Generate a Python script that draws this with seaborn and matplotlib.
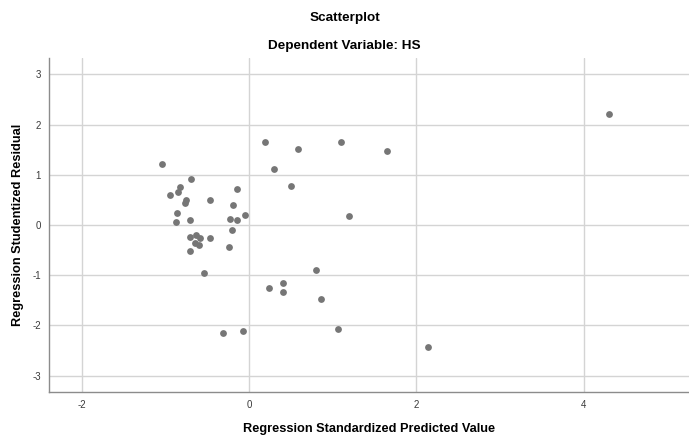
import pandas as pd
import numpy as np
import matplotlib
matplotlib.use("Agg")
import matplotlib.pyplot as plt
import seaborn as sns

# values
pred_value = [0.19, 0.58, 1.10, 1.65, -1.04, 0.30, -0.69, -0.83, -0.85, -0.95,
              -0.14, 0.50, -0.75, -0.76, -0.47, -0.19, -0.86, -0.87, -0.71, -0.23,
              -0.14, -0.05, 1.20, -0.20, -0.71, -0.63, -0.59, -0.47, -0.64, -0.60,
              -0.70, -0.24, -0.54, 0.80, 0.24, 0.41, 0.41, 0.86, -0.31, -0.07,
              1.06, 2.14, 4.30]
stud_resid = [1.65, 1.51, 1.65, 1.47, 1.22, 1.11, 0.92, 0.76, 0.66, 0.60,
              0.72, 0.77, 0.50, 0.44, 0.50, 0.41, 0.24, 0.06, 0.11, 0.13,
              0.11, 0.20, 0.19, -0.10, -0.24, -0.19, -0.26, -0.26, -0.36, -0.40,
              -0.52, -0.44, -0.95, -0.90, -1.25, -1.16, -1.33, -1.48, -2.15, -2.11,
              -2.07, -2.42, 2.22]
x_ticks = [-2, 0, 2, 4]
y_ticks = [-3, -2, -1, 0, 1, 2, 3]

df = pd.DataFrame({"pred": pred_value, "resid": stud_resid})

sns.set_style("white")
plt.rcParams['font.family'] = ['Liberation Sans', 'DejaVu Sans']
plt.rcParams['axes.unicode_minus'] = False

fig = plt.figure(figsize=(6.89, 4.37), dpi=100)
ax = fig.add_axes([0.0716, 0.103, 0.9284, 0.765])

sns.scatterplot(
    x='pred',
    y='resid',
    data=df,
    ax=ax,
    color='#767676',
    s=24,
    linewidth=0,
    zorder=3
)

ax.set_xlim(-2.387, 5.26)
ax.set_ylim(-3.325, 3.335)
ax.set_xticks(x_ticks)
ax.set_yticks(y_ticks)
ax.grid(True, color='#d4d4d4', linewidth=1.0)
ax.set_axisbelow(True)
ax.tick_params(length=0, labelsize=7, colors='#3a3a3a', pad=6)

for side in ['top', 'right']:
    ax.spines[side].set_visible(False)
for side in ['left', 'bottom']:
    ax.spines[side].set_color('#8c8c8c')
    ax.spines[side].set_linewidth(1.0)

ax.set_xlabel("Regression Standardized Predicted Value", fontsize=9.2,
              fontweight='bold', labelpad=9, color='black')
ax.set_ylabel("Regression Studentized Residual", fontsize=9.2,
              fontweight='bold', labelpad=6, color='black')

fig.text(0.5, 0.958, "Scatterplot", ha='center', va='center',
         fontsize=9.7, fontweight='bold', color='black')
fig.text(0.5, 0.895, "Dependent Variable: HS", ha='center', va='center',
         fontsize=9.7, fontweight='bold', color='black')

plt.savefig("out.png", dpi=100)
